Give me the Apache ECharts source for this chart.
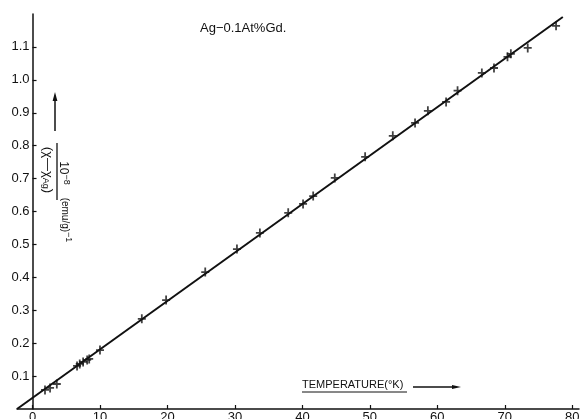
<!DOCTYPE html>
<html>
<head>
<meta charset="utf-8">
<script src="https://cdn.jsdelivr.net/npm/echarts@6/dist/echarts.min.js"></script>
<style>
  html, body { margin: 0; padding: 0; background: #fff; }
  #chart { width: 582px; height: 419px; }
</style>
</head>
<body>
<div id="chart"></div>
<script>
// Measured points: temperature (K) and inverse excess susceptibility (10^8 g/emu)
const temperatures = [
  1.85, 2.6, 3.6, 6.6, 7.0, 7.5, 8.1, 8.4, 10.0, 16.2,
  19.8, 25.6, 30.3, 33.7, 37.9, 40.1, 41.6, 44.8, 49.3, 53.4,
  56.7, 58.6, 61.3, 63.0, 66.6, 68.4, 70.4, 70.9, 73.4, 77.6
];
const inverseSusceptibility = [
  0.058, 0.064, 0.076, 0.131, 0.137, 0.143, 0.149, 0.152, 0.179, 0.274,
  0.331, 0.416, 0.486, 0.535, 0.596, 0.623, 0.647, 0.702, 0.766, 0.830,
  0.869, 0.906, 0.933, 0.967, 1.021, 1.036, 1.070, 1.079, 1.097, 1.164
];

// Straight-line fit through the points
const fitTemperatures = [-2.3, 78.6];
const fitValues = [0, 1.191];

// Axis ticks
const xTickValues = [0, 10, 20, 30, 40, 50, 60, 70, 80];
const yTickValues = [0.1, 0.2, 0.3, 0.4, 0.5, 0.6, 0.7, 0.8, 0.9, 1.0, 1.1];
const yTickLabels = ['0.1', '0.2', '0.3', '0.4', '0.5', '0.6', '0.7', '0.8', '0.9', '1.0', '1.1'];

const ink = '#111';
const font = '"Liberation Sans", Arial, sans-serif';

const plusSymbol = 'path://M-1,-5H1V5H-1Z M-4.5,-1H4.5V1H-4.5Z';

const gridLeft = 17;
const xMin = -2.3;
const xMax = 81;
const gridRight = 3;
const plotWidth = 582 - gridLeft - gridRight;
// shift the value axis onto T = 0
const yAxisShift = (0 - xMin) / (xMax - xMin) * plotWidth;

const chart = echarts.init(document.getElementById('chart'), null, { renderer: 'canvas' });

chart.setOption({
  backgroundColor: '#fff',
  animation: false,
  title: {
    text: 'Ag\u22120.1At%Gd.',
    left: 195,
    top: 17,
    textStyle: { color: ink, fontSize: 13, fontWeight: 'normal', fontFamily: font }
  },
  grid: { left: gridLeft, right: gridRight, top: 14, bottom: 10, containLabel: false, outerBoundsMode: 'none' },
  xAxis: {
    type: 'value',
    min: xMin,
    max: xMax,
    axisLine: { show: true, lineStyle: { color: ink, width: 1.5 } },
    axisTick: { show: true, inside: true, length: 4, customValues: xTickValues, lineStyle: { color: ink, width: 1.2 } },
    axisLabel: {
      customValues: xTickValues,
      margin: 2,
      color: ink,
      fontSize: 13,
      fontFamily: font
    },
    splitLine: { show: false }
  },
  yAxis: {
    type: 'value',
    min: 0,
    max: 1.2,
    offset: -yAxisShift,
    axisLine: { show: true, onZero: false, lineStyle: { color: ink, width: 1.5 } },
    axisTick: { show: true, inside: true, length: 4, customValues: yTickValues, lineStyle: { color: ink, width: 1.2 } },
    axisLabel: {
      customValues: yTickValues,
      margin: 3,
      color: ink,
      fontSize: 13,
      fontFamily: font,
      formatter: function (v) {
        const i = yTickValues.findIndex(t => Math.abs(t - v) < 1e-6);
        return i >= 0 ? yTickLabels[i] : '';
      }
    },
    splitLine: { show: false }
  },
  series: [
    {
      type: 'line',
      data: fitTemperatures.map((t, i) => [t, fitValues[i]]),
      showSymbol: false,
      lineStyle: { color: ink, width: 2 },
      z: 2
    },
    {
      type: 'scatter',
      data: temperatures.map((t, i) => [t, inverseSusceptibility[i]]),
      symbol: plusSymbol,
      symbolSize: [8, 9],
      itemStyle: { color: ink },
      z: 3
    }
  ],
  graphic: [
    // y-axis quantity, written downward beside the axis
    {
      type: 'text', x: 48, y: 170, rotation: -Math.PI / 2,
      style: {
        text: '(\u03c7\u2014\u03c7{s|Ag})',
        font: '13px ' + font, fill: ink, align: 'center', verticalAlign: 'middle',
        rich: { s: { fontSize: 9, fontFamily: font, fill: ink, padding: [6, 0, 0, 0] } }
      }
    },
    {
      type: 'line', shape: { x1: 57, y1: 143, x2: 57, y2: 200 },
      style: { stroke: ink, lineWidth: 1.3 }
    },
    {
      type: 'text', x: 63, y: 173, rotation: -Math.PI / 2,
      style: {
        text: '10{p|\u22128}',
        font: '12px ' + font, fill: ink, align: 'center', verticalAlign: 'middle',
        rich: { p: { fontSize: 9, fontFamily: font, fill: ink, padding: [0, 0, 6, 0] } }
      }
    },
    {
      type: 'text', x: 65, y: 220, rotation: -Math.PI / 2,
      style: {
        text: '(emu/g){p|\u22121}',
        font: '10px ' + font, fill: ink, align: 'center', verticalAlign: 'middle',
        rich: { p: { fontSize: 9, fontFamily: font, fill: ink, padding: [0, 0, 6, 0] } }
      }
    },
    // upward arrow
    {
      type: 'line', shape: { x1: 55, y1: 131, x2: 55, y2: 98 },
      style: { stroke: ink, lineWidth: 1.5 }
    },
    {
      type: 'polygon', shape: { points: [[55, 92], [52.6, 101], [57.4, 101]] },
      style: { fill: ink }
    },
    // x-axis quantity with underline and arrow
    {
      type: 'text', x: 302, y: 385,
      style: {
        text: 'TEMPERATURE(\u00b0K)',
        font: '11px ' + font, fill: ink, align: 'left', verticalAlign: 'middle'
      }
    },
    {
      type: 'line', shape: { x1: 302, y1: 392, x2: 407, y2: 392 },
      style: { stroke: ink, lineWidth: 1 }
    },
    {
      type: 'line', shape: { x1: 413, y1: 387, x2: 454, y2: 387 },
      style: { stroke: ink, lineWidth: 1.3 }
    },
    {
      type: 'polygon', shape: { points: [[461, 387], [452, 385], [452, 389]] },
      style: { fill: ink }
    }
  ]
});
</script>
</body>
</html>
